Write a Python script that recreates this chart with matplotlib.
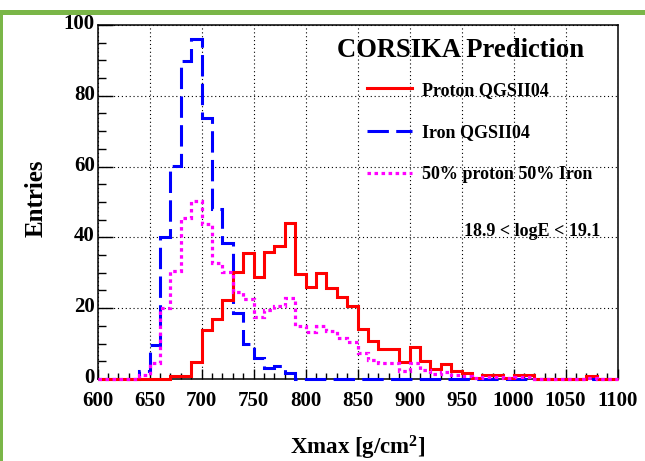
import numpy as np
import matplotlib
matplotlib.use("Agg")
import matplotlib.pyplot as plt
import matplotlib.transforms as mtransforms
from matplotlib.patches import Rectangle
from matplotlib.ticker import MultipleLocator

plt.rcParams['font.family'] = ['Liberation Serif', 'DejaVu Serif']
plt.rcParams['mathtext.fontset'] = 'custom'
plt.rcParams['mathtext.rm'] = 'Liberation Serif:bold'
plt.rcParams['mathtext.bf'] = 'Liberation Serif:bold'
plt.rcParams['mathtext.default'] = 'bf'

# Xmax bins, 10 g/cm2 wide, 600 -> 1100
edges = np.arange(600, 1101, 10)

proton = [0, 0, 0, 0, 0, 0, 0, 0.8, 0.8, 4.8,
          13.8, 17, 22.2, 30.2, 35.7, 28.8, 36, 37.6, 44, 29.6,
          26, 30, 25.7, 23.2, 20.6, 14.2, 10.6, 8.6, 8.6, 4.8,
          9, 5.1, 2.7, 4.1, 2.2, 1.7, 0.4, 1.2, 1.2, 0.3,
          1.2, 1.2, 0, 0, 0, 0, 0, 0.8, 0, 0]

iron = [0, 0, 0, 0, 2.3, 9.6, 40, 60.2, 89.8, 96,
        73.8, 48, 38.5, 18.7, 10, 6, 3, 3.7, 1.8, 0,
        0, 0, 0, 0, 0, 0, 0, 0, 0, 0,
        0, 0, 0, 0, 0, 0, 0, 0, 0, 0,
        0, 0, 0, 0, 0, 0, 0, 0, 0, 0]

mix = [0, 0, 0, 0, 1.1, 4.6, 20, 30.5, 45.5, 50.3,
       43.8, 32.7, 30.2, 24.5, 22.5, 17.5, 19.5, 20.6, 23, 15,
       13.2, 15, 13.5, 11.7, 10.5, 7.2, 5.3, 4.4, 4.4, 2.3,
       4.4, 2.4, 1.4, 2, 1.1, 0.9, 0.3, 0.5, 0.5, 0.2,
       0.5, 0.5, 0.1, 0.1, 0.1, 0.1, 0.1, 0.4, 0.1, 0.1]

labels = ['Proton QGSII04', 'Iron QGSII04', '50% proton 50% Iron']

fig = plt.figure(figsize=(6.45, 4.61), dpi=100)
ax = fig.add_axes([0.1512, 0.1779, 0.8062, 0.7679])

ax.stairs(iron, edges, color='#0000ff', linewidth=2.2,
          linestyle=(0, (7, 2.4)), label=labels[1], zorder=3, clip_on=False)
ax.stairs(proton, edges, color='#ff0000', linewidth=2.2,
          linestyle='-', label=labels[0], zorder=4, clip_on=False)
ax.stairs(mix, edges, color='#ff00ff', linewidth=2.3,
          linestyle=(0, (1.1, 1.1)), label=labels[2], zorder=5, clip_on=False)

ax.set_xlim(600, 1100)
ax.set_ylim(0, 100)
ax.xaxis.set_major_locator(MultipleLocator(50))
ax.xaxis.set_minor_locator(MultipleLocator(10))
ax.yaxis.set_major_locator(MultipleLocator(20))
ax.yaxis.set_minor_locator(MultipleLocator(5))

ax.tick_params(axis='both', which='both', direction='in', width=1.0,
               top=False, right=False)
ax.tick_params(axis='y', which='major', length=10.5, pad=2)
ax.tick_params(axis='y', which='minor', length=5.8)
ax.tick_params(axis='x', which='major', length=7.5, pad=8.5)
ax.tick_params(axis='x', which='minor', length=4.2)
up = mtransforms.ScaledTranslation(0, 2.5 / 72, fig.dpi_scale_trans)
for lab in ax.get_xticklabels() + ax.get_yticklabels():
    lab.set_fontsize(15)
    lab.set_fontweight('bold')
for lab in ax.get_yticklabels():
    lab.set_transform(lab.get_transform() + up)

ax.grid(True, which='major', color='black', linestyle=(0, (1, 2.5)), linewidth=0.8)
ax.set_axisbelow(True)
for sp in ax.spines.values():
    sp.set_linewidth(1.1)

ax.set_ylabel('Entries', fontsize=18, fontweight='bold')
ax.yaxis.set_label_coords(-0.095, 0.51)
ax.set_xlabel('Xmax [g/cm$^{2}$]', fontsize=16.5, fontweight='bold', va='center')
ax.xaxis.set_label_coords(0.5, -0.195)

ax.text(0.461, 0.929, 'CORSIKA Prediction', transform=ax.transAxes,
        fontsize=19.2, fontweight='bold', ha='left', va='center')
ax.text(0.705, 0.417, '18.9 < logE < 19.1', transform=ax.transAxes,
        fontsize=13, fontweight='bold', ha='left', va='center')

h, l = ax.get_legend_handles_labels()
order = [1, 0, 2]
leg = ax.legend([h[i] for i in order], [l[i] for i in order],
                loc='upper left', bbox_to_anchor=(0.518, 0.84),
                frameon=False, prop={'weight': 'bold', 'size': 13},
                handlelength=2.5, handletextpad=0.55, labelspacing=1.4,
                borderpad=0, borderaxespad=0)

# green frame from the screenshot
green = '#7ab648'
fig.add_artist(Rectangle((0, 0.967), 1, 0.0115, transform=fig.transFigure,
                         color=green, lw=0))
fig.add_artist(Rectangle((0, 0), 0.005, 0.975, transform=fig.transFigure,
                         color=green, lw=0))

fig.savefig('out.png', dpi=100)
